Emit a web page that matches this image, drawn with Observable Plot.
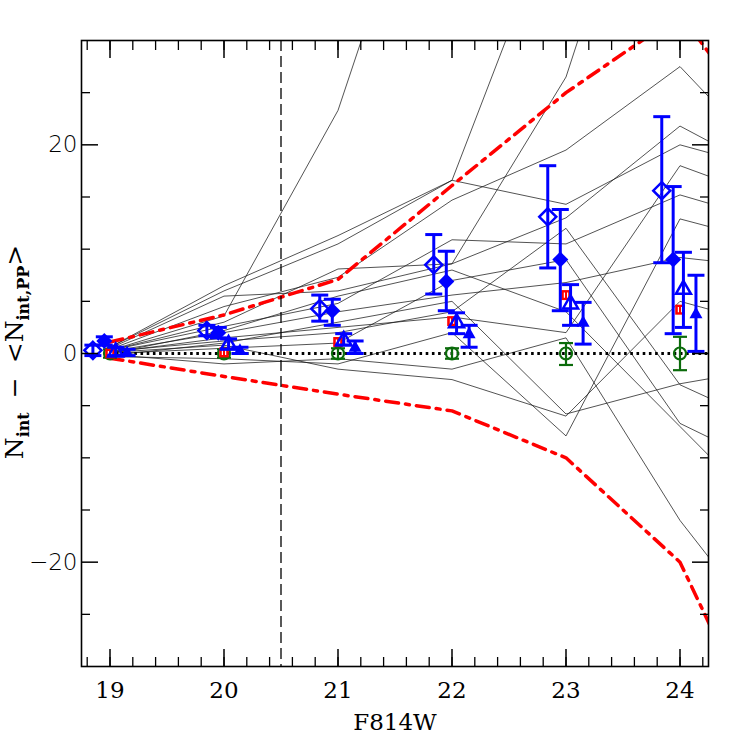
<!DOCTYPE html>
<html><head><meta charset="utf-8">
<script src="https://cdn.jsdelivr.net/npm/d3@7"></script>
<script src="https://cdn.jsdelivr.net/npm/@observablehq/plot@0.6"></script>
<style>body{margin:0;background:#fff}</style>
</head><body><div id="chart"></div>
<script>
// ---------- data ----------
const magGrid = [19, 20, 21, 22, 23, 24, 25];
const simLines = [
  [0.3, 3.6, 23.3, 56, 90, 120, 150],
  [0.6, 6.5, 11.3, 16.6, 45, 75, 100],
  [0.6, 6.0, 10.5, 16.6, 14.3, 20.0, 17],
  [0.4, 4.5, 7.3, 14.7, 19.5, 27.5, 16],
  [0.3, 3.0, 8.1, 8.6, 26.5, 60, 90],
  [0.5, 5.5, 6.0, 8.6, 13.0, 21.8, 16],
  [0.2, 2.0, 4.0, 5.6, 6.8, 9.2, 8],
  [0.1, 1.5, 2.5, 3.5, 2.0, 18.0, 14],
  [0.0, 0.5, 1.0, 7.0, 9.0, -6.7, -12],
  [-0.2, 1.0, 3.0, 5.0, -5.8, -2.9, -1],
  [-0.3, -0.5, -1.0, 2.0, -7.9, 12.9, 10],
  [0.0, 2.2, 5.5, 8.0, 4.0, -7.0, -18],
  [-0.1, -1.0, -0.5, -1.5, 1.5, -16, -30],
  [0.2, 1.2, 2.0, 4.0, 12.0, -3.0, -8],
  [0.1, 0.8, -1.5, -2.5, -6.0, 5.0, 2],
  [0.3, 2.6, 4.8, 10.9, 10.5, 15.2, 12]
];
const envUpper = [1.1, 3.7, 7.1, 16.1, 25.0, 32.5, 18];
const envLower = [-0.45, -2.2, -3.9, -5.5, -10.0, -20.0, -43];
const zeroRefStart = [19];
const magLimit = [20.5];

const binMag = [19, 20, 21, 22, 23, 24];
const greenY  = [0, 0, 0, 0, 0, 0];
const greenLo = [-0.4, -0.4, -0.5, -0.5, -1.1, -1.6];
const greenHi = [0.4, 0.4, 0.5, 0.5, 1.0, 1.6];
const redY = [0.0, 0.1, 1.1, 3.1, 5.6, 4.2];

const openDiaX  = [18.85, 19.85, 20.84, 21.84, 22.84, 23.84];
const openDiaY  = [0.3, 2.2, 4.3, 8.5, 13.1, 15.6];
const openDiaLo = [-0.2, 1.7, 3.1, 5.7, 8.2, 8.7];
const openDiaHi = [0.8, 2.7, 5.6, 11.4, 18.0, 22.7];

const fillDiaX  = [18.95, 19.95, 20.95, 21.95, 22.95, 23.94];
const fillDiaY  = [1.2, 2.0, 4.1, 6.9, 9.0, 9.0];
const fillDiaLo = [0.8, 1.5, 2.7, 4.1, 4.1, 1.9];
const fillDiaHi = [1.6, 2.5, 5.2, 9.8, 13.8, 16.0];

const openTriX  = [19.05, 20.04, 21.05, 22.04, 23.04, 24.03];
const openTriY  = [0.2, 0.9, 1.3, 3.0, 4.8, 6.2];
const openTriLo = [-0.2, 0.4, 0.8, 1.9, 2.7, 2.5];
const openTriHi = [0.6, 1.4, 1.9, 3.9, 6.6, 9.7];

const fillTriX  = [19.15, 20.14, 21.15, 22.15, 23.15, 24.14];
const fillTriY  = [0.1, 0.3, 0.6, 1.9, 3.0, 3.8];
const fillTriLo = [-0.2, 0.0, 0.0, 0.6, 0.9, 0.2];
const fillTriHi = [0.4, 0.6, 1.2, 2.7, 4.9, 7.5];

const xMajor = [19, 20, 21, 22, 23, 24];
const xMinor = d3.range(18.8, 24.25, 0.2).map(v => +v.toFixed(1));
const yMajor = [-20, 0, 20];
const yMinor = [-25, -15, -10, -5, 5, 10, 15, 25];
const xTitle = ["F814W"];

// ---------- build tables ----------
const simRows = simLines.flatMap((vals, id) => vals.map((y, i) => ({id, x: magGrid[i], y})));
const envRows = [
  ...envUpper.map((y, i) => ({id: "up", x: magGrid[i], y})),
  ...envLower.map((y, i) => ({id: "lo", x: magGrid[i], y}))
];
const mkRows = (X, Y, L, H) => X.map((x, i) => ({x, y: Y[i], lo: L ? L[i] : null, hi: H ? H[i] : null}));
const greenRows = mkRows(binMag, greenY, greenLo, greenHi);
const redRows = mkRows(binMag, redY);
const openDia = mkRows(openDiaX, openDiaY, openDiaLo, openDiaHi);
const fillDia = mkRows(fillDiaX, fillDiaY, fillDiaLo, fillDiaHi);
const openTri = mkRows(openTriX, openTriY, openTriLo, openTriHi);
const fillTri = mkRows(fillTriX, fillTriY, fillTriLo, fillTriHi);

// ---------- symbols ----------
const sym = f => ({draw(c) { f(c); }});
const capBlue = sym(c => { c.moveTo(-8.5, 0); c.lineTo(8.5, 0); });
const capGreen = sym(c => { c.moveTo(-7, 0); c.lineTo(7, 0); });
const diamondSym = sym(c => { c.moveTo(0, -8.5); c.lineTo(8.5, 0); c.lineTo(0, 8.5); c.lineTo(-8.5, 0); c.closePath(); });
const fDiamondSym = sym(c => { c.moveTo(0, -8); c.lineTo(8, 0); c.lineTo(0, 8); c.lineTo(-8, 0); c.closePath(); });
const openTriSym = sym(c => { c.moveTo(0, -8); c.lineTo(7.5, 5); c.lineTo(-7.5, 5); c.closePath(); });
const fillTriSym = sym(c => { c.moveTo(0, -7); c.lineTo(6.5, 4.5); c.lineTo(-6.5, 4.5); c.closePath(); });
const squareSym = sym(c => { c.rect(-4.8, -5, 9.6, 10); });
const barsSym = sym(c => { c.moveTo(-1.6, -2.6); c.lineTo(-1.6, 2.6); c.moveTo(1.6, -2.6); c.lineTo(1.6, 2.6); });
const circleSym = sym(c => { c.moveTo(6, 0); c.arc(0, 0, 6, 0, 2 * Math.PI); });

const BLUE = "#0000ff", RED = "#ff0000", GREEN = "#0b6b0b";
const errMarks = (rows, color, w, cap) => [
  Plot.ruleX(rows, {x: "x", y1: "lo", y2: "hi", stroke: color, strokeWidth: w}),
  Plot.dot(rows, {x: "x", y: "lo", symbol: cap, stroke: color, strokeWidth: w, r: 1}),
  Plot.dot(rows, {x: "x", y: "hi", symbol: cap, stroke: color, strokeWidth: w, r: 1})
];

const serif = "DejaVu Serif";
const sans = "DejaVu Sans";

const plot = Plot.plot({
  width: 747, height: 747,
  marginLeft: 81, marginRight: 39, marginTop: 40, marginBottom: 81,
  x: {domain: [18.75, 24.25], axis: null},
  y: {domain: [-30, 30], axis: null},
  style: {background: "white", overflow: "visible"},
  marks: [
    Plot.line(simRows, {x: "x", y: "y", z: "id", stroke: "#1a1a1a", strokeWidth: 0.75, clip: true}),
    Plot.line(envRows, {x: "x", y: "y", z: "id", stroke: RED, strokeWidth: 3.5, strokeDasharray: "13,7,4,7", clip: true}),
    Plot.ruleY(zeroRefStart, {y: () => 0, x1: d => d, x2: () => 24.25, stroke: "black", strokeWidth: 3, strokeDasharray: "2.6,3.6"}),
    Plot.ruleX(magLimit, {x: d => d, stroke: "black", strokeWidth: 1.3, strokeDasharray: "11,5"}),
    // green
    ...errMarks(greenRows, GREEN, 2.2, capGreen),
    Plot.dot(greenRows, {x: "x", y: "y", symbol: circleSym, stroke: GREEN, strokeWidth: 2.2, fill: "none"}),
    // red
    Plot.dot(redRows, {x: "x", y: "y", symbol: squareSym, fill: RED, stroke: "none"}),
    Plot.dot(redRows, {x: "x", y: "y", symbol: barsSym, stroke: "white", strokeWidth: 1.2}),
    // blue
    ...errMarks(openDia, BLUE, 3, capBlue),
    Plot.dot(openDia, {x: "x", y: "y", symbol: diamondSym, stroke: BLUE, strokeWidth: 2.5, fill: "none"}),
    ...errMarks(fillDia, BLUE, 3, capBlue),
    Plot.dot(fillDia, {x: "x", y: "y", symbol: fDiamondSym, fill: BLUE, stroke: "none"}),
    ...errMarks(openTri, BLUE, 3, capBlue),
    Plot.dot(openTri, {x: "x", y: "y", symbol: openTriSym, stroke: BLUE, strokeWidth: 2.5, fill: "none"}),
    ...errMarks(fillTri, BLUE, 3, capBlue),
    Plot.dot(fillTri, {x: "x", y: "y", symbol: fillTriSym, fill: BLUE, stroke: "none"}),
    // frame and ticks
    Plot.frame({stroke: "black", strokeWidth: 1.6}),
    Plot.axisX(xMajor, {anchor: "bottom", tickSize: -17, tickFormat: () => "", strokeWidth: 1.5, label: null}),
    Plot.axisX(xMajor, {anchor: "top", tickSize: -17, tickFormat: () => "", strokeWidth: 1.5, label: null}),
    Plot.axisX(xMinor, {anchor: "bottom", tickSize: -9, tickFormat: () => "", strokeWidth: 1.3, label: null}),
    Plot.axisX(xMinor, {anchor: "top", tickSize: -9, tickFormat: () => "", strokeWidth: 1.3, label: null}),
    Plot.axisY(yMajor, {anchor: "left", tickSize: -17, tickFormat: () => "", strokeWidth: 1.5, label: null}),
    Plot.axisY(yMajor, {anchor: "right", tickSize: -17, tickFormat: () => "", strokeWidth: 1.5, label: null}),
    Plot.axisY(yMinor, {anchor: "left", tickSize: -9, tickFormat: () => "", strokeWidth: 1.3, label: null}),
    Plot.axisY(yMinor, {anchor: "right", tickSize: -9, tickFormat: () => "", strokeWidth: 1.3, label: null}),
    // labels
    Plot.axisX(xMajor, {anchor: "bottom", tickSize: 0, tickPadding: 15, tickFormat: "d", fontSize: 23, fontFamily: serif, fill: "black", label: null}),
    Plot.axisY(yMajor, {anchor: "left", tickSize: 0, tickPadding: 4, tickFormat: d => d < 0 ? "\u2212" + Math.abs(d) : String(d), fontSize: 23, fontFamily: sans, fontWeight: 300, fill: "black", label: null}),
    Plot.text(xTitle, {frameAnchor: "bottom", dy: 56, fontSize: 23, fontFamily: serif, fill: "black", lineAnchor: "middle"})
  ]
});

// y-axis title with subscripts
const svg = d3.select(plot);
const t = svg.append("text")
  .attr("transform", "translate(23,352) rotate(-90)")
  .attr("text-anchor", "middle")
  .attr("font-family", serif)
  .attr("font-size", 25)
  .attr("fill", "black");
t.append("tspan").text("N");
t.append("tspan").attr("font-size", 16).attr("font-weight", "bold").attr("dy", 6).text("int");
t.append("tspan").attr("dy", -6).attr("dx", 14).text("−");
t.append("tspan").attr("dx", 14).text("<N");
t.append("tspan").attr("font-size", 16).attr("font-weight", "bold").attr("dy", 6).text("int,PP");
t.append("tspan").attr("dy", -6).text(">");

document.getElementById("chart").appendChild(plot);
</script>
</body></html>
